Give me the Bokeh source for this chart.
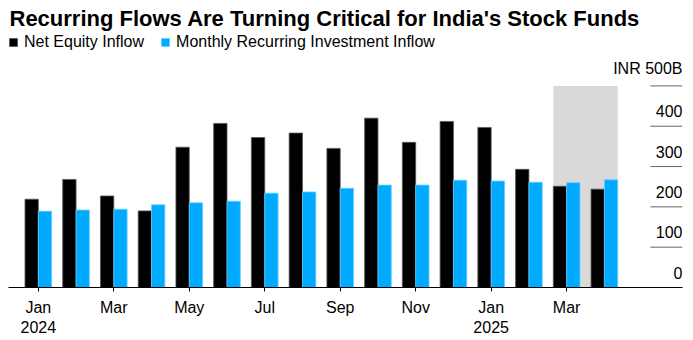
from bokeh.plotting import figure
from bokeh.models import ColumnDataSource, FixedTicker, Legend, LegendItem, Range1d
from bokeh.core.properties import value
from bokeh.embed import file_html
from bokeh.resources import INLINE

months = ["Jan 2024", "Feb 2024", "Mar 2024", "Apr 2024", "May 2024", "Jun 2024",
          "Jul 2024", "Aug 2024", "Sep 2024", "Oct 2024", "Nov 2024", "Dec 2024",
          "Jan 2025", "Feb 2025", "Mar 2025", "Apr 2025"]
net_equity = [219, 268, 227, 190, 348, 407, 372, 383, 345, 420, 360, 412, 397, 293, 251, 244]
recurring = [189, 192, 194, 205, 210, 214, 234, 237, 246, 254, 254, 266, 264, 261, 260, 267]
x_tick_pos = [0, 2, 4, 6, 8, 10, 12, 14]
x_tick_labels = ["Jan\n2024", "Mar", "May", "Jul", "Sep", "Nov", "Jan\n2025", "Mar"]
y_ticks = [0, 100, 200, 300, 400, 500]
y_tick_labels = ["0", "100", "200", "300", "400", "INR 500B"]
shade_months = [14, 15]
shade_top = 500

FONT = "Liberation Sans"
BLUE = "#00aaff"
BW = 0.353
X0, X1 = -0.79, 17.07

idx = list(range(len(months)))
src = ColumnDataSource(dict(
    xb=[i - BW / 2 for i in idx], xr=[i + BW / 2 for i in idx],
    net=net_equity, rec=recurring))

p = figure(width=693, height=340, output_backend="svg", toolbar_location=None,
           x_range=Range1d(X0, X1), y_range=Range1d(0, 630),
           y_axis_location=None, min_border_left=8, min_border_right=11,
           min_border_top=33, min_border_bottom=53, outline_line_color=None,
           title="Recurring Flows Are Turning Critical for India's Stock Funds")
p.title.text_font = FONT
p.title.text_font_size = "22px"
p.title.text_font_style = "bold"
p.title.text_color = "black"
p.title.standoff = 5
p.title.offset = 1
p.xgrid.visible = False
p.ygrid.visible = False

p.quad(left=[shade_months[0] - BW], right=[shade_months[-1] + BW], bottom=[0], top=[shade_top],
       fill_color="#d9d9d9", line_color=None)

rb = p.vbar(x="xb", top="net", width=BW, source=src, fill_color="black", line_color="#555555", line_width=0.8)
rr = p.vbar(x="xr", top="rec", width=BW, source=src, fill_color=BLUE, line_color="#66ccff", line_width=0.8)

gx0 = 16.22
grid_vals = [v for v in y_ticks if v > 0]
p.segment(x0=[gx0] * len(grid_vals), x1=[X1] * len(grid_vals), y0=grid_vals, y1=grid_vals,
          line_color="#666666", line_width=1)
p.text(x=[X1] * len(y_ticks), y=y_ticks, text=y_tick_labels, text_align="right",
       text_baseline="bottom", y_offset=-9, text_font=value(FONT), text_font_size="16px",
       text_color="black")

ax = p.xaxis[0]
ax.ticker = FixedTicker(ticks=x_tick_pos, minor_ticks=[])
ax.major_label_overrides = {t: l for t, l in zip(x_tick_pos, x_tick_labels)}
ax.major_label_text_font = FONT
ax.major_label_text_font_size = "16px"
ax.major_label_text_color = "black"
ax.major_label_standoff = 7
ax.axis_line_color = "black"
ax.axis_line_width = 1.2
ax.major_tick_out = 4
ax.major_tick_in = 0
ax.major_tick_line_color = "black"
ax.minor_tick_line_color = None

leg = Legend(items=[LegendItem(label="Net Equity Inflow", renderers=[rb]),
                    LegendItem(label="Monthly Recurring Investment Inflow", renderers=[rr])],
             orientation="horizontal", location="top_left", margin=0, padding=2,
             spacing=16, label_standoff=6, glyph_width=10, glyph_height=10,
             label_text_font=FONT, label_text_font_size="16px", label_text_color="black",
             border_line_color=None, background_fill_alpha=0)
p.add_layout(leg)

open("out.html", "w").write(file_html(p, INLINE))
